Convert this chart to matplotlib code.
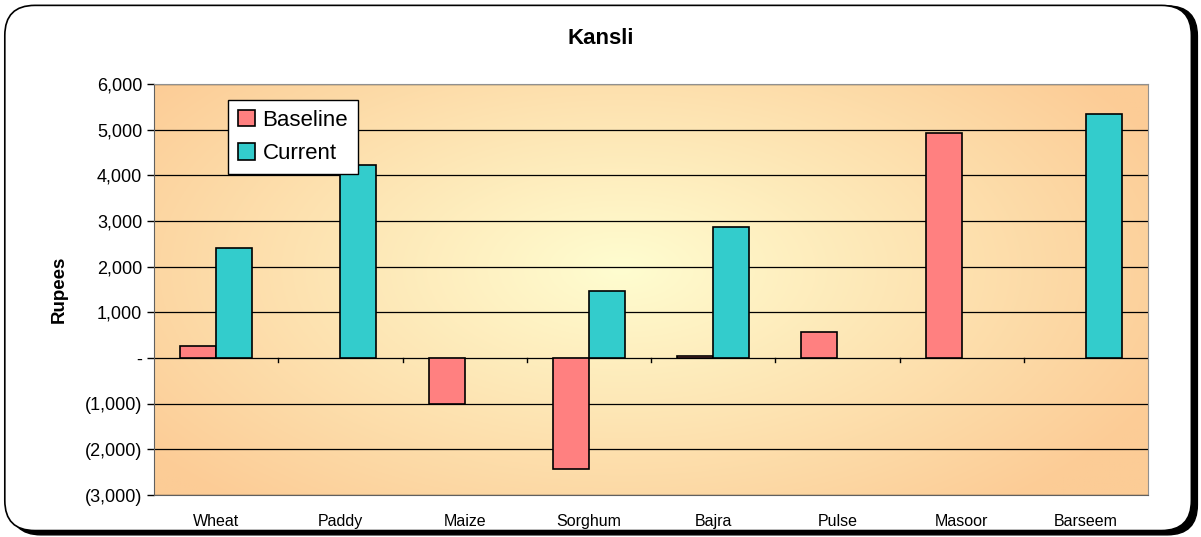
import numpy as np
import matplotlib.pyplot as plt
from matplotlib.patches import FancyBboxPatch
from matplotlib.ticker import FuncFormatter

crops = ["Wheat", "Paddy", "Maize", "Sorghum", "Bajra", "Pulse", "Masoor", "Barseem"]
baseline = [260, 0, -1005, -2430, 45, 565, 4920, 0]
current = [2410, 4225, 0, 1465, 2865, 0, 0, 5335]

plt.rcParams['font.family'] = ['Liberation Sans', 'DejaVu Sans']

fig = plt.figure(figsize=(12.01, 5.37), dpi=100)

# rounded frame with shadow
shadow = FancyBboxPatch((0.009, 0.004), 0.988, 0.985, boxstyle="round,pad=0,rounding_size=0.025",
                        transform=fig.transFigure, facecolor="black", edgecolor="black",
                        mutation_aspect=1201/537, zorder=-2)
frame = FancyBboxPatch((0.004, 0.012), 0.988, 0.978, boxstyle="round,pad=0,rounding_size=0.025",
                       transform=fig.transFigure, facecolor="white", edgecolor="black", lw=1.2,
                       mutation_aspect=1201/537, zorder=-1)
fig.patches.extend([shadow, frame])

ax = fig.add_axes([154/1201, 1-495/537, (1148-154)/1201, (495-84)/537])
ax.set_zorder(1)
ax.set_xlim(0, len(crops))
ax.set_ylim(-3000, 6000)

# radial gradient background
gx, gy = np.meshgrid(np.linspace(0, 1, 400), np.linspace(0, 1, 200))
d = np.sqrt(((gx - 0.47) / 0.6) ** 2 + ((gy - 0.55) / 0.75) ** 2)
d = np.clip(d, 0, 1)
c0 = np.array([255, 253, 208]) / 255
c1 = np.array([252, 204, 150]) / 255
img = c0 + (c1 - c0) * d[..., None]
ax.imshow(img, extent=[0, len(crops), -3000, 6000], aspect="auto", origin="lower", zorder=0)

for v in range(-3000, 7000, 1000):
    ax.axhline(v, color="black", lw=0.9, zorder=1)

x = np.arange(len(crops)) + 0.5
w = 0.29
# zero values are not drawn at all
b_vals = [np.nan if v == 0 else v for v in baseline]
c_vals = [np.nan if v == 0 else v for v in current]
ax.bar(x - w/2, b_vals, w, color="#FF8080", edgecolor="black", lw=1.2, zorder=3, label="Baseline")
ax.bar(x + w/2, c_vals, w, color="#33CCCC", edgecolor="black", lw=1.2, zorder=3, label="Current")

# category ticks along the zero line
for b in range(1, len(crops)):
    ax.plot([b, b], [0, -90], color="black", lw=1, zorder=2)

ax.set_xticks(x)
ax.set_xticklabels(crops, fontsize=11.5)
ax.tick_params(axis="x", length=0, pad=14)
ax.set_yticks(range(-3000, 7000, 1000))
ax.yaxis.set_major_formatter(FuncFormatter(
    lambda v, p: "-" if v == 0 else ("({:,.0f})".format(-v) if v < 0 else "{:,.0f}".format(v))))
ax.tick_params(axis="y", labelsize=13, length=5, width=1)
for s in ["top", "right"]:
    ax.spines[s].set_color("#909090")
ax.spines["left"].set_color("#606060")
ax.spines["bottom"].set_color("#606060")

ax.set_ylabel("Rupees", fontsize=13.5, fontweight="bold", labelpad=12)
fig.text(0.5, 1-38/537, "Kansli", fontsize=16, fontweight="bold", ha="center", va="center")

leg = ax.legend(loc="upper left", bbox_to_anchor=((228-154)/994, (495-100)/411), fontsize=16,
                fancybox=False, edgecolor="black", framealpha=1, handlelength=0.75,
                handleheight=0.75, handletextpad=0.35, borderpad=0.45, labelspacing=0.55,
                borderaxespad=0)
leg.get_frame().set_linewidth(1)

fig.savefig("out.png", dpi=100)
